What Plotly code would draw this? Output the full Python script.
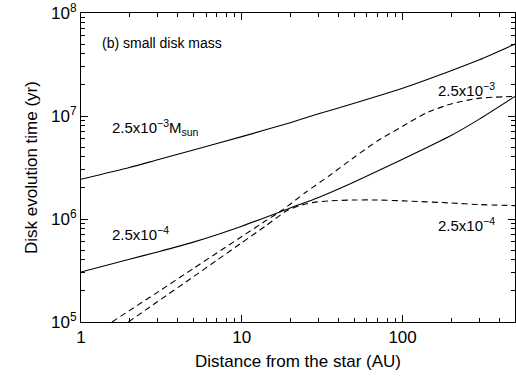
import plotly.graph_objects as go

# ---- data (AU, yr) ----
x_solid = [1, 2, 3, 5, 10, 20, 30, 50, 100, 200, 300, 500]
t_solid_hi = [2.43e6, 3.16e6, 3.76e6, 4.68e6, 6.31e6, 8.61e6, 1.05e7, 1.33e7, 1.86e7, 2.75e7, 3.51e7, 4.99e7]
t_solid_lo = [3.06e5, 4.07e5, 4.79e5, 5.96e5, 8.51e5, 1.28e6, 1.62e6, 2.29e6, 3.80e6, 6.46e6, 9.33e6, 1.55e7]

x_dash_hi = [1.56, 2, 3, 5, 7, 10, 14, 18, 25, 35, 50, 70, 100, 140, 200, 300, 500]
t_dash_hi = [1.00e5, 1.29e5, 1.95e5, 3.31e5, 4.68e5, 6.76e5, 9.55e5, 1.23e6, 1.82e6, 2.63e6,
             3.98e6, 5.75e6, 7.94e6, 1.07e7, 1.31e7, 1.49e7, 1.55e7]

x_dash_lo = [1.97, 3, 5, 7, 10, 14, 19, 23, 28, 35, 50, 70, 100, 200, 300, 500]
t_dash_lo = [1.00e5, 1.58e5, 2.75e5, 3.98e5, 5.89e5, 8.51e5, 1.20e6, 1.35e6, 1.45e6, 1.50e6,
             1.53e6, 1.53e6, 1.50e6, 1.43e6, 1.38e6, 1.35e6]

x_major = [1, 10, 100]
x_major_text = ["1", "10", "100"]
x_minor = [m * d for d in (1, 10, 100) for m in range(2, 10) if m * d <= 500]
y_major = [1e5, 1e6, 1e7, 1e8]
y_major_text = ["10<sup>5</sup>", "10<sup>6</sup>", "10<sup>7</sup>", "10<sup>8</sup>"]
y_minor = [m * d for d in (1e5, 1e6, 1e7) for m in range(2, 10)]

FONT = "Liberation Sans"

fig = go.Figure()
line_solid = dict(color="black", width=1.1, shape="spline", smoothing=0.6)
line_dash = dict(color="black", width=1.1, dash="6px,4px", shape="spline", smoothing=0.6)
fig.add_trace(go.Scatter(x=x_solid, y=t_solid_hi, mode="lines", line=line_solid, showlegend=False))
fig.add_trace(go.Scatter(x=x_solid, y=t_solid_lo, mode="lines", line=line_solid, showlegend=False))
fig.add_trace(go.Scatter(x=x_dash_hi, y=t_dash_hi, mode="lines", line=line_dash, showlegend=False))
fig.add_trace(go.Scatter(x=x_dash_lo, y=t_dash_lo, mode="lines", line=line_dash, showlegend=False))

axis_common = dict(
    type="log", showgrid=False, zeroline=False, showline=True, linecolor="black",
    linewidth=1, mirror="ticks", ticks="inside", ticklen=7, tickcolor="black",
    tickwidth=1, tickfont=dict(family=FONT, size=17, color="black"),
)

fig.update_xaxes(
    **axis_common, range=[0, 2.699], tickmode="array", tickvals=x_major, ticktext=x_major_text,
    minor=dict(tickmode="array", tickvals=x_minor, ticks="inside", ticklen=4, tickcolor="black"),
    title=dict(text="Distance from the star (AU)", font=dict(family=FONT, size=17, color="black"),
               standoff=8),
)
fig.update_yaxes(
    **axis_common, range=[5, 8], tickmode="array", tickvals=y_major, ticktext=y_major_text,
    minor=dict(tickmode="array", tickvals=y_minor, ticks="inside", ticklen=4, tickcolor="black"),
    title=dict(text="Disk evolution time (yr)", font=dict(family=FONT, size=17, color="black"),
               standoff=9),
)

ann_font = dict(family=FONT, size=15, color="black")
annotations = [
    dict(text="(b) small disk mass", x=0.044, y=0.904, xanchor="left", yanchor="middle",
         font=dict(family=FONT, size=14, color="black")),
    dict(text="2.5x10<sup>−3</sup>M<sub>sun</sub>", x=0.067, y=0.628, xanchor="left", yanchor="middle",
         font=ann_font),
    dict(text="2.5x10<sup>−3</sup>", x=0.959, y=0.751, xanchor="right", yanchor="middle", font=ann_font),
    dict(text="2.5x10<sup>−4</sup>", x=0.067, y=0.288, xanchor="left", yanchor="middle", font=ann_font),
    dict(text="2.5x10<sup>−4</sup>", x=0.959, y=0.314, xanchor="right", yanchor="middle", font=ann_font),
]
for a in annotations:
    a.update(xref="paper", yref="paper", showarrow=False)
fig.update_layout(
    width=516, height=379, margin=dict(l=81, r=1, t=13, b=57),
    paper_bgcolor="white", plot_bgcolor="white", annotations=annotations,
    font=dict(family=FONT, color="black"),
)
fig.write_html("out.html")
